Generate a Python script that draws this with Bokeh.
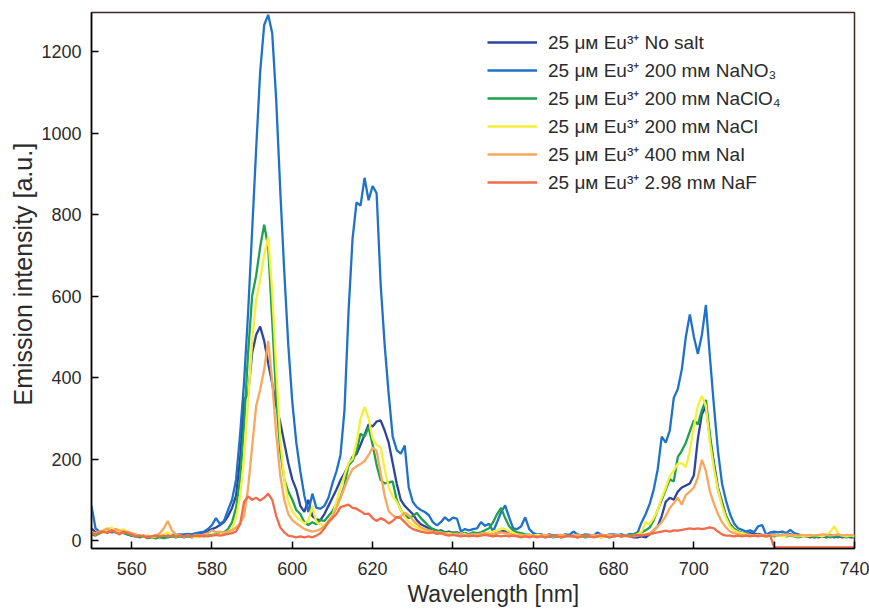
from bokeh.plotting import figure
from bokeh.models import Legend, LegendItem, Range1d, FixedTicker, Title
from bokeh.embed import file_html
from bokeh.resources import INLINE

# Wavelength grid [nm]
wavelength = list(range(550, 741))

# Emission intensity [a.u.], one value per nm from 550 to 740
no_salt = [
    30, 20, 18, 22, 25, 20, 22, 18, 20, 15,
    12, 10, 12, 10, 8, 10, 12, 10, 8, 10,
    12, 10, 12, 10, 12, 14, 12, 15, 18, 22,
    28, 32, 38, 45, 60, 80, 110, 200, 345, 360,
    460, 505, 525, 490, 435, 385, 330, 290, 240, 190,
    150, 125, 85, 70, 100, 60, 52, 50, 65, 85,
    105, 125, 148, 165, 185, 205, 212, 235, 260, 285,
    280, 292, 295, 270, 240, 190, 140, 100, 85, 75,
    65, 50, 40, 35, 30, 28, 22, 25, 20, 22,
    18, 20, 15, 18, 14, 16, 15, 18, 14, 16,
    15, 18, 22, 25, 18, 15, 14, 15, 12, 14,
    12, 10, 12, 10, 12, 10, 12, 10, 12, 10,
    12, 10, 12, 11, 10, 12, 10, 12, 10, 12,
    10, 12, 10, 12, 10, 8, 8, 10, 8, 15,
    25, 35, 60, 95, 105, 100, 120, 130, 135, 140,
    160, 250, 310, 330, 250, 190, 130, 95, 60, 40,
    28, 22, 18, 16, 18, 15, 16, 14, 12, 14,
    15, 12, 14, 12, 16, 12, 10, 12, 10, 8,
    10, 8, 10, 8, 10, 8, 10, 8, 10, 8,
    8,
]

nano3 = [
    85, 30, 22, 20, 25, 22, 28, 20, 24, 18,
    16, 12, 10, 12, 9, 8, 10, 12, 10, 12,
    14, 14, 15, 15, 16, 15, 18, 20, 22, 28,
    38, 55, 40, 48, 75, 100, 150, 260, 390, 560,
    760, 960, 1150, 1265, 1290, 1245, 1080, 860, 660, 480,
    340, 240, 170, 110, 70, 115, 80, 78, 85, 105,
    140, 170, 210, 320, 560, 740, 830, 822, 890, 835,
    870, 852, 630, 480, 360, 255, 222, 213, 233, 130,
    95, 82, 75, 70, 62, 45, 37, 45, 57, 48,
    56, 54, 22, 28, 25, 28, 30, 45, 36, 41,
    22, 45, 70, 86, 57, 30, 28, 35, 57, 28,
    18, 15, 15, 12, 15, 12, 14, 12, 15, 14,
    22, 15, 12, 15, 14, 12, 20, 14, 12, 15,
    15, 14, 15, 12, 16, 15, 20, 45, 65, 90,
    125, 175, 255, 240, 270, 350, 372, 420, 500, 555,
    500, 458, 505, 578, 450, 330, 220, 140, 98, 65,
    42, 30, 26, 22, 25, 20, 35, 38, 14, 20,
    22, 20, 22, 18, 26, 18, 15, 12, 10, 12,
    8, 10, 12, 8, 14, 10, 8, 12, 10, 12,
    10,
]

naclo4 = [
    15, 12, 18, 20, 22, 25, 20, 22, 18, 15,
    12, 10, 8, 10, 6, 8, 5, 8, 6, 8,
    10, 8, 10, 8, 10, 8, 10, 12, 10, 12,
    14, 15, 18, 20, 28, 45, 80, 150, 290, 460,
    600, 650, 720, 775, 720, 540, 350, 220, 150, 120,
    100, 75, 65, 45, 38, 45, 40, 50, 48, 60,
    72, 90, 105, 135, 185, 195, 220, 262, 255, 278,
    235, 185, 148, 140, 142, 145, 100, 75, 62, 55,
    60, 68, 55, 45, 35, 28, 25, 22, 20, 18,
    20, 18, 15, 18, 15, 20, 18, 20, 25, 30,
    45, 65, 80, 55, 35, 25, 20, 18, 15, 14,
    12, 10, 12, 8, 10, 8, 10, 8, 10, 12,
    10, 8, 10, 8, 10, 12, 10, 8, 10, 8,
    10, 12, 10, 12, 14, 15, 18, 20, 25, 32,
    50, 75, 100, 125, 150, 145, 205, 220, 240, 268,
    295, 285, 320, 345, 260, 185, 125, 90, 60, 40,
    28, 22, 18, 15, 14, 12, 14, 12, 10, 12,
    10, 12, 14, 10, 12, 10, 8, 10, 12, 10,
    8, 10, 12, 10, 8, 10, 12, 10, 8, 10,
    10,
]

nacl = [
    20, 15, 22, 18, 28, 32, 25, 22, 28, 20,
    15, 12, 14, 10, 12, 8, 10, 12, 15, 20,
    12, 10, 12, 10, 12, 10, 8, 10, 12, 10,
    12, 14, 15, 18, 22, 30, 55, 110, 200, 340,
    490, 590, 640, 700, 745, 610, 420, 250, 150, 95,
    72, 58, 50, 42, 48, 85, 45, 40, 38, 42,
    60, 95, 130, 160, 190, 200, 240, 300, 328, 300,
    250, 235, 228, 175, 130, 108, 95, 75, 58, 45,
    38, 32, 28, 25, 22, 20, 18, 20, 16, 18,
    15, 16, 14, 16, 12, 15, 14, 16, 18, 20,
    22, 25, 30, 28, 22, 18, 15, 14, 12, 14,
    12, 14, 12, 10, 12, 10, 12, 10, 12, 10,
    12, 14, 10, 12, 10, 12, 10, 8, 10, 12,
    10, 12, 10, 12, 10, 12, 15, 22, 45, 40,
    55, 75, 105, 130, 158, 172, 188, 190, 180, 220,
    280, 330, 355, 330, 240, 175, 125, 85, 55, 35,
    25, 20, 18, 15, 14, 12, 14, 12, 10, 12,
    14, 12, 10, 12, 14, 12, 10, 12, 10, 12,
    14, 12, 10, 14, 22, 35, 15, 12, 10, 12,
    10,
]

nai = [
    20, 18, 22, 25, 30, 22, 28, 25, 20, 22,
    18, 15, 12, 10, 12, 10, 12, 18, 30, 48,
    25, 15, 12, 10, 12, 10, 14, 12, 15, 18,
    25, 20, 22, 18, 22, 25, 32, 42, 60, 130,
    230, 330, 370, 420, 490, 390, 260, 160, 100, 65,
    50, 42, 35, 28, 25, 22, 24, 28, 35, 48,
    60, 80, 105, 130, 155, 175, 182, 188, 195, 210,
    228, 220, 165, 110, 72, 62, 55, 60, 68, 62,
    50, 40, 32, 28, 25, 22, 20, 18, 16, 15,
    14, 16, 14, 12, 14, 15, 14, 16, 18, 16,
    15, 18, 20, 18, 16, 14, 12, 14, 12, 14,
    12, 10, 12, 14, 12, 10, 12, 14, 12, 10,
    12, 14, 12, 10, 12, 14, 12, 15, 12, 14,
    12, 14, 12, 10, 12, 10, 12, 14, 15, 18,
    25, 35, 45, 60, 80, 92, 105, 88, 112, 120,
    130, 155, 198, 170, 120, 90, 65, 45, 32, 22,
    18, 15, 14, 12, 14, 12, 14, 12, 14, 12,
    14, 12, 14, 15, 12, 14, 12, 14, 12, 14,
    12, 14, 15, 14, 12, 14, 15, 12, 14, 12,
    14,
]

naf = [
    18, 15, 20, 22, 18, 25, 20, 15, 22, 18,
    15, 10, 12, 10, 8, 10, 12, 10, 12, 10,
    12, 10, 12, 10, 12, 10, 12, 10, 12, 10,
    12, 14, 12, 14, 16, 18, 22, 40, 95, 108,
    100, 105, 98, 105, 115, 100, 60, 32, 20, 12,
    10, 8, 10, 8, 10, 8, 12, 18, 30, 45,
    55, 65, 82, 85, 88, 80, 78, 72, 65, 66,
    55, 48, 55, 50, 42, 48, 58, 55, 45, 35,
    28, 25, 22, 20, 18, 20, 16, 18, 14, 12,
    14, 12, 10, 12, 10, 12, 10, 12, 14, 12,
    10, 12, 10, 12, 10, 12, 10, 8, 10, 8,
    10, 8, 10, 8, 10, 12, 10, 8, 10, 12,
    10, 8, 10, 12, 10, 8, 10, 12, 10, 8,
    10, 12, 10, 12, 10, 12, 14, 12, 14, 15,
    18, 20, 22, 24, 22, 25, 24, 26, 28, 30,
    28, 30, 28, 30, 32, 30, 22, 15, 12, 12,
    10, 12, 10, 12, 10, 12, 10, 12, 10, 12,
    -17, -17, -17, -17, -17, -17, -17, -17, -17, -17,
    -17, -17, -17, -17, -17, -17, -17, -17, -17, -17,
    -17,
]

labels = [
    "25 \u03bc\u1d0d Eu\u00b3\u207a No salt",
    "25 \u03bc\u1d0d Eu\u00b3\u207a 200 m\u1d0d NaNO\u2083",
    "25 \u03bc\u1d0d Eu\u00b3\u207a 200 m\u1d0d NaClO\u2084",
    "25 \u03bc\u1d0d Eu\u00b3\u207a 200 m\u1d0d NaCl",
    "25 \u03bc\u1d0d Eu\u00b3\u207a 400 m\u1d0d NaI",
    "25 \u03bc\u1d0d Eu\u00b3\u207a 2.98 m\u1d0d NaF",
]
series = [no_salt, nano3, naclo4, nacl, nai, naf]
colors = ["#2b45a0", "#1f72c8", "#1ea24e", "#f6ef3a", "#f8a75c", "#f26b4b"]

x_ticks = [560, 580, 600, 620, 640, 660, 680, 700, 720, 740]
y_ticks = [0, 200, 400, 600, 800, 1000, 1200]
x_title = "Wavelength [nm]"
y_title = "Emission intensity [a.u.]"

FONT = "Liberation Sans"
TXT = "#2b2b2b"

p = figure(width=869, height=612, output_backend="svg", toolbar_location=None,
           x_range=Range1d(550, 740), y_range=Range1d(-19.6, 1295.7),
           min_border_left=91, min_border_right=15, min_border_top=12,
           min_border_bottom=64)
p.background_fill_color = "white"
p.border_fill_color = "white"
p.xgrid.visible = False
p.ygrid.visible = False
p.outline_line_color = "#3d2a27"
p.outline_line_width = 1.5

items = []
for vals, lab, col in zip(series, labels, colors):
    r = p.line(wavelength, vals, line_color=col, line_width=2.3)
    items.append(LegendItem(label=lab, renderers=[r]))

legend = Legend(items=items, location=(396, 352), padding=0, margin=0,
                spacing=0, glyph_width=50, glyph_height=28, label_height=28,
                label_standoff=11, label_text_font=FONT,
                label_text_font_size="19px", label_text_color=TXT,
                background_fill_alpha=0, border_line_alpha=0)
p.add_layout(legend, "center")

for ax in (p.xaxis[0], p.yaxis[0]):
    ax.axis_line_color = "black"
    ax.axis_line_width = 1.5
    ax.major_tick_line_color = "black"
    ax.major_tick_line_width = 1.5
    ax.major_tick_in = 7
    ax.major_tick_out = 0
    ax.minor_tick_line_color = None
    ax.major_label_text_font = FONT
    ax.major_label_text_font_size = "18px"
    ax.major_label_text_color = TXT

p.xaxis.ticker = FixedTicker(ticks=x_ticks)
p.yaxis.ticker = FixedTicker(ticks=y_ticks)
p.xaxis.major_label_standoff = 13
p.yaxis.major_label_standoff = 10

# Axis titles, placed as in the reference (not centred on the frame)
p.add_layout(Title(text=x_title, align="left", offset=316, standoff=2,
                   text_font=FONT, text_font_size="23px",
                   text_font_style="normal", text_color=TXT), "below")
p.add_layout(Title(text=y_title, align="left", offset=143, standoff=4,
                   text_font=FONT, text_font_size="25px",
                   text_font_style="normal", text_color=TXT), "left")

open("out.html", "w").write(file_html(p, INLINE))
